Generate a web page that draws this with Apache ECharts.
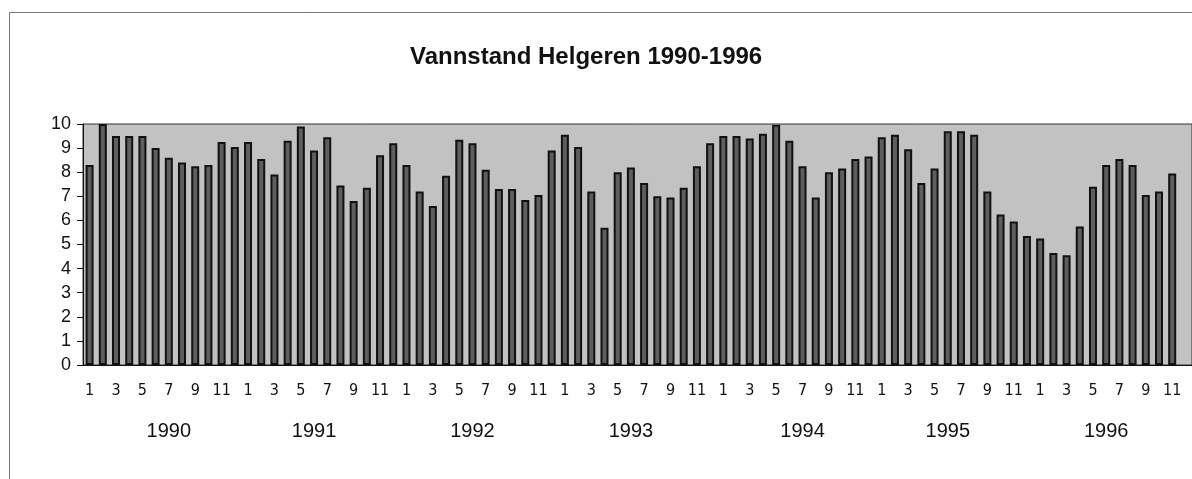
<!DOCTYPE html>
<html>
<head>
<meta charset="utf-8">
<script src="https://cdn.jsdelivr.net/npm/echarts@6/dist/echarts.min.js"></script>
<style>
html, body { margin: 0; padding: 0; background: #fff; }
#chart { width: 1192px; height: 479px; }
</style>
</head>
<body>
<div id="chart"></div>
<script>
// månedlig vannstand, Helgeren
var years = ['1990', '1991', '1992', '1993', '1994', '1995', '1996'];
var v1990 = [8.3, 10.0, 9.5, 9.5, 9.5, 9.0, 8.6, 8.4, 8.25, 8.3, 9.25, 9.05];
var v1991 = [9.25, 8.55, 7.9, 9.3, 9.9, 8.9, 9.45, 7.45, 6.8, 7.35, 8.7, 9.2];
var v1992 = [8.3, 7.2, 6.6, 7.85, 9.35, 9.2, 8.1, 7.3, 7.3, 6.85, 7.05, 8.9];
var v1993 = [9.55, 9.05, 7.2, 5.7, 8.0, 8.2, 7.55, 7.0, 6.95, 7.35, 8.25, 9.2];
var v1994 = [9.5, 9.5, 9.4, 9.6, 9.97, 9.3, 8.25, 6.95, 8.0, 8.15, 8.55, 8.65];
var v1995 = [9.45, 9.55, 8.95, 7.55, 8.15, 9.7, 9.7, 9.55, 7.2, 6.25, 5.95, 5.35];
var v1996 = [5.25, 4.65, 4.55, 5.75, 7.4, 8.3, 8.55, 8.3, 7.05, 7.2, 7.95, null];
var yearLabelAt = [6, 17, 29, 41, 54, 65, 77];

var values = [].concat(v1990, v1991, v1992, v1993, v1994, v1995, v1996);
var months = [];
var cats = [];
years.forEach(function (y) {
    for (var m = 1; m <= 12; m++) {
        months.push(String(m));
        cats.push(y + '-' + m);
    }
});

var chart = echarts.init(document.getElementById('chart'));
chart.setOption({
    animation: false,
    title: {
        text: 'Vannstand Helgeren 1990-1996',
        left: 405,
        top: 40,
        textStyle: { fontFamily: 'Liberation Sans', fontWeight: 'bold', fontSize: 24, color: '#111' }
    },
    graphic: [{
        type: 'rect',
        left: 7, top: 10,
        shape: { width: 1400, height: 700 },
        style: { fill: 'none', stroke: '#777', lineWidth: 1 }
    }],
    grid: {
        left: 83, right: 0, top: 124, bottom: 114,
        show: true,
        backgroundColor: '#c2c2c2',
        borderColor: '#333',
        borderWidth: 1
    },
    xAxis: [{
        type: 'category',
        data: cats,
        axisLine: { lineStyle: { color: '#111', width: 1 } },
        axisTick: { interval: 0, length: 6, lineStyle: { color: '#111' } },
        axisLabel: {
            interval: 1,
            margin: 18,
            fontFamily: 'Liberation Sans Narrow, DejaVu Sans Condensed, Liberation Sans',
            fontSize: 16,
            color: '#111',
            formatter: function (v, i) { return months[i]; }
        }
    }, {
        type: 'category',
        data: cats,
        position: 'bottom',
        axisLine: { show: false },
        axisTick: { show: false },
        axisLabel: {
            interval: 0,
            margin: 56,
            fontFamily: 'Liberation Sans',
            fontSize: 20,
            color: '#111',
            formatter: function (v, i) {
                var k = yearLabelAt.indexOf(i);
                return k >= 0 ? years[k] : '';
            }
        }
    }],
    yAxis: {
        type: 'value',
        min: 0,
        max: 10,
        interval: 1,
        splitLine: { show: false },
        axisLine: { show: true, lineStyle: { color: '#111' } },
        axisTick: { show: true, length: 6, lineStyle: { color: '#111' } },
        axisLabel: { fontFamily: 'Liberation Sans', fontSize: 18, color: '#111', margin: 12 }
    },
    series: [{
        type: 'bar',
        data: values,
        barWidth: 8,
        itemStyle: { color: '#5e5e5e', borderColor: '#111', borderWidth: 2 }
    }]
});
</script>
</body>
</html>
